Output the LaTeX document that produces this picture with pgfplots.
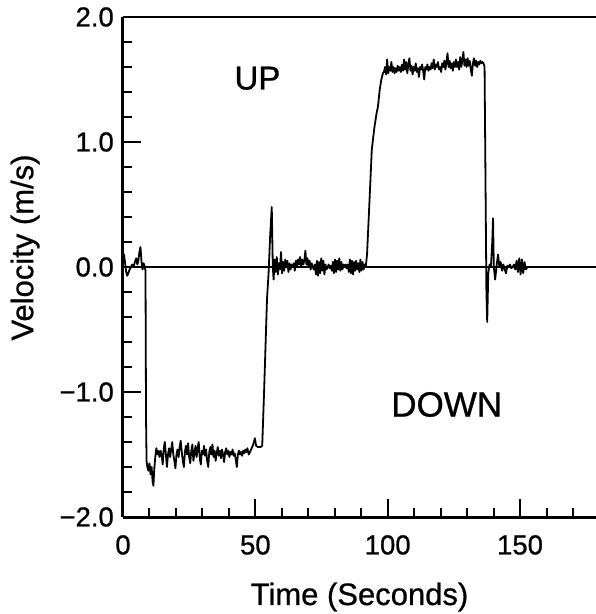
\documentclass[border=0pt]{standalone}
\usepackage{fontspec}
\setmainfont{Liberation Sans}[FakeBold=0.8]
\usepackage{pgfplots}
\pgfplotsset{compat=1.18}
\begin{document}
\begin{tikzpicture}
\begin{axis}[
  scale only axis, width=473pt, height=500pt,
  xmin=0, xmax=178.7, ymin=-2, ymax=2,
  axis lines*=left,
  axis line style={line width=3pt, -},
  tick align=inside,
  xtick={0,50,100,150},
  minor xtick={10,20,30,40,60,70,80,90,110,120,130,140,160,170},
  ytick={-2,-1,0,1,2},
  yticklabels={−2.0,−1.0,0.0,1.0,2.0},
  minor ytick={-1.8,-1.6,-1.4,-1.2,-0.8,-0.6,-0.4,-0.2,0.2,0.4,0.6,0.8,1.2,1.4,1.6,1.8},
  major tick length=18pt, minor tick length=9pt,
  every tick/.style={line width=2pt, black},
  /pgf/number format/assume math mode=true,
  ticklabel style={font=\fontsize{27.5}{30}\selectfont, inner sep=0pt},
  xticklabel style={anchor=north, yshift=-18pt},
  yticklabel style={anchor=east, xshift=-9pt},
  xlabel={Time (Seconds)}, ylabel={Velocity (m/s)},
  label style={font=\fontsize{31}{34}\selectfont},
  xlabel style={at={(axis description cs:0.5,-0.176)}, anchor=base},
  ylabel style={at={(axis description cs:-0.19,0.539)}, anchor=base},
]
\addplot[black, line width=1.2pt] coordinates {(0,0) (178.7,0)};
\addplot[black, line width=1.8pt, line join=round] coordinates {
(0,0.06) (0.4,0.1) (0.8,0.03) (1.2,-0.04) (1.6,-0.07) (2.0,-0.05) (2.5,-0.02) (3.0,0.0) (3.5,0.02) (4.0,0.0) (4.5,0.04) (5.0,0.07) (5.4,0.02) (5.8,0.05) (6.2,0.12) (6.6,0.16) (7.0,0.04) (7.4,-0.02) (7.8,0.03) (8.2,0.0) (8.5,-0.03) (8.7,-1.2) (8.9,-1.55)
(9.2,-1.6) (9.6,-1.63) (10.0,-1.57) (10.4,-1.66) (10.8,-1.6) (11.2,-1.72) (11.5,-1.75) (11.8,-1.62) (12.2,-1.52) (12.6,-1.45) (13.0,-1.5) (13.4,-1.47) (13.8,-1.52) (14.2,-1.47) (14.6,-1.5) (15.0,-1.58) (15.4,-1.45) (15.8,-1.4) (16.2,-1.5) (16.6,-1.6) (17.0,-1.5) (17.4,-1.45) (17.8,-1.52) (18.2,-1.46) (18.6,-1.4) (19.0,-1.5) (19.4,-1.55) (19.8,-1.61) (20.2,-1.5) (20.6,-1.46) (21.0,-1.52) (21.4,-1.44) (21.8,-1.39) (22.2,-1.48) (22.6,-1.55) (23.0,-1.6) (23.4,-1.48) (23.8,-1.43) (24.2,-1.5) (24.6,-1.41) (25.0,-1.52) (25.4,-1.57) (25.8,-1.47) (26.2,-1.42) (26.6,-1.55) (27.0,-1.49) (27.4,-1.43) (27.8,-1.52) (28.2,-1.45) (28.6,-1.4) (29.0,-1.53) (29.4,-1.58) (29.8,-1.47) (30.2,-1.5) (30.6,-1.43) (31.0,-1.51) (31.4,-1.46) (31.8,-1.55) (32.2,-1.6) (32.6,-1.48) (33.0,-1.44) (33.4,-1.5) (33.8,-1.42) (34.2,-1.52) (34.6,-1.47) (35.0,-1.55) (35.4,-1.49) (35.8,-1.44) (36.2,-1.51) (36.6,-1.47) (37.0,-1.53) (37.4,-1.46) (37.8,-1.5) (38.2,-1.56) (38.6,-1.48) (39.0,-1.45) (39.4,-1.5) (39.8,-1.47) (40.2,-1.52) (40.6,-1.48) (41.0,-1.5) (41.4,-1.46) (41.8,-1.51) (42.2,-1.49) (42.6,-1.54) (43.0,-1.6) (43.4,-1.5) (43.8,-1.47) (44.2,-1.5) (44.6,-1.48) (45.0,-1.51) (45.4,-1.47) (45.8,-1.49) (46.2,-1.46) (46.6,-1.48) (47.0,-1.45) (47.5,-1.5) (48.0,-1.48) (48.6,-1.45) (49.2,-1.42) (49.8,-1.37) (50.3,-1.43) (51.0,-1.44) (52.0,-1.44) (52.6,-1.43)
(53.3,-1.0) (54.4,-0.26) (55.0,-0.05) (55.6,0.25) (56.2,0.48) (56.6,0.0) (56.9,-0.1)
(57.3,0.06) (57.7,-0.04) (58.1,0.08) (58.5,-0.06) (58.9,0.03) (59.3,-0.02) (59.7,0.12) (60.1,-0.05) (60.5,0.04) (60.9,-0.03) (61.3,0.06) (61.7,0.0) (62.1,0.05) (62.5,-0.04) (62.9,0.03) (63.3,-0.02) (63.7,0.02) (64.1,0.0) (64.5,0.03) (64.9,-0.03) (65.3,0.05) (65.7,0.0) (66.1,0.06) (66.5,0.02) (66.9,0.08) (67.3,0.0) (67.7,0.06) (68.1,0.02) (68.5,0.05) (68.9,0.13) (69.3,0.02) (69.7,0.07) (70.1,0.0) (70.5,0.05) (70.9,-0.02) (71.3,0.03) (71.7,0.0) (72.1,-0.02) (72.5,0.02) (72.9,-0.06) (73.3,0.05) (73.7,-0.07) (74.1,0.04) (74.5,-0.05) (74.9,0.07) (75.3,-0.03) (75.7,0.05) (76.1,-0.06) (76.5,0.02) (76.9,-0.02) (77.3,0.0) (77.7,0.02) (78.1,-0.01) (78.5,0.01) (78.9,-0.03) (79.3,0.04) (79.7,-0.05) (80.1,0.06) (80.5,-0.04) (80.9,0.05) (81.3,-0.02) (81.7,0.07) (82.1,-0.03) (82.5,0.04) (82.9,-0.02) (83.3,0.02) (83.7,0.0) (84.1,0.02) (84.5,-0.01) (84.9,0.02) (85.3,-0.04) (85.7,0.06) (86.1,-0.05) (86.5,0.05) (86.9,-0.06) (87.3,0.04) (87.7,-0.03) (88.1,0.05) (88.5,-0.02) (88.9,0.03) (89.3,-0.04) (89.7,0.06) (90.1,-0.03) (90.5,0.04) (90.9,-0.02) (91.3,0.02) (91.7,0.0)
(92.2,0.1) (93.0,0.47) (94.0,0.94) (95.0,1.12) (95.8,1.23) (96.3,1.28) (97.0,1.42) (97.6,1.5) (98.2,1.55)
(98.6,1.56) (99.0,1.6) (99.4,1.54) (99.8,1.66) (100.2,1.55) (100.6,1.6) (101.0,1.57) (101.4,1.64) (101.8,1.56) (102.2,1.6) (102.6,1.55) (103.0,1.59) (103.4,1.56) (103.8,1.61) (104.2,1.57) (104.6,1.6) (105.0,1.56) (105.4,1.62) (105.8,1.57) (106.2,1.66) (106.6,1.58) (107.0,1.64) (107.4,1.55) (107.8,1.62) (108.2,1.67) (108.6,1.57) (109.0,1.61) (109.4,1.54) (109.8,1.6) (110.2,1.57) (110.6,1.63) (111.0,1.56) (111.4,1.59) (111.8,1.52) (112.2,1.6) (112.6,1.58) (113.0,1.62) (113.4,1.57) (113.8,1.5) (114.2,1.6) (114.6,1.58) (115.0,1.62) (115.4,1.57) (115.8,1.6) (116.2,1.58) (116.6,1.63) (117.0,1.59) (117.4,1.66) (117.8,1.58) (118.2,1.62) (118.6,1.6) (119.0,1.64) (119.4,1.58) (119.8,1.6) (120.2,1.56) (120.6,1.63) (121.0,1.6) (121.4,1.65) (121.8,1.58) (122.2,1.64) (122.6,1.71) (123.0,1.6) (123.4,1.65) (123.8,1.59) (124.2,1.63) (124.6,1.57) (125.0,1.64) (125.4,1.6) (125.8,1.66) (126.2,1.6) (126.6,1.64) (127.0,1.58) (127.4,1.68) (127.8,1.6) (128.2,1.65) (128.6,1.72) (129.0,1.61) (129.4,1.66) (129.8,1.6) (130.2,1.67) (130.6,1.61) (131.0,1.65) (131.4,1.58) (131.8,1.53) (132.2,1.63) (132.6,1.67) (133.0,1.61) (133.4,1.65) (133.8,1.6) (134.2,1.64) (134.6,1.62) (135.0,1.65) (135.4,1.63) (135.8,1.64) (136.2,1.63) (136.6,1.6)
(137.3,-0.2) (137.6,-0.44) (138.0,-0.05) (138.5,0.02) (139.0,0.0) (139.5,0.2) (139.8,0.39) (140.1,0.0) (140.6,-0.1) (141.2,0.02) (141.7,0.1) (142.2,0.0) (142.7,0.04) (143.2,-0.03) (143.7,0.02) (144.2,-0.02) (144.7,-0.05) (145.2,0.01) (145.7,0.0) (146.2,0.02) (146.7,-0.01) (147.2,0.0) (147.7,0.02) (148.2,-0.02) (148.7,0.05) (149.2,-0.04) (149.7,0.07) (150.2,-0.06) (150.7,0.06) (151.2,-0.05) (151.7,0.04) (152.2,-0.02) (152.8,0.0) (178.7,0.0)
};
\draw[line width=3pt, line cap=rect] (rel axis cs:0,1) -- (rel axis cs:1,1);
\node[font=\fontsize{33}{36}\selectfont] at (axis cs:50.8,1.51) {UP};
\node[font=\fontsize{35}{38}\selectfont] at (axis cs:122.3,-1.10) {DOWN};
\end{axis}
\pgfresetboundingbox
\path[use as bounding box] (-123pt,-97pt) rectangle (473pt,517pt);
\end{tikzpicture}
\end{document}
